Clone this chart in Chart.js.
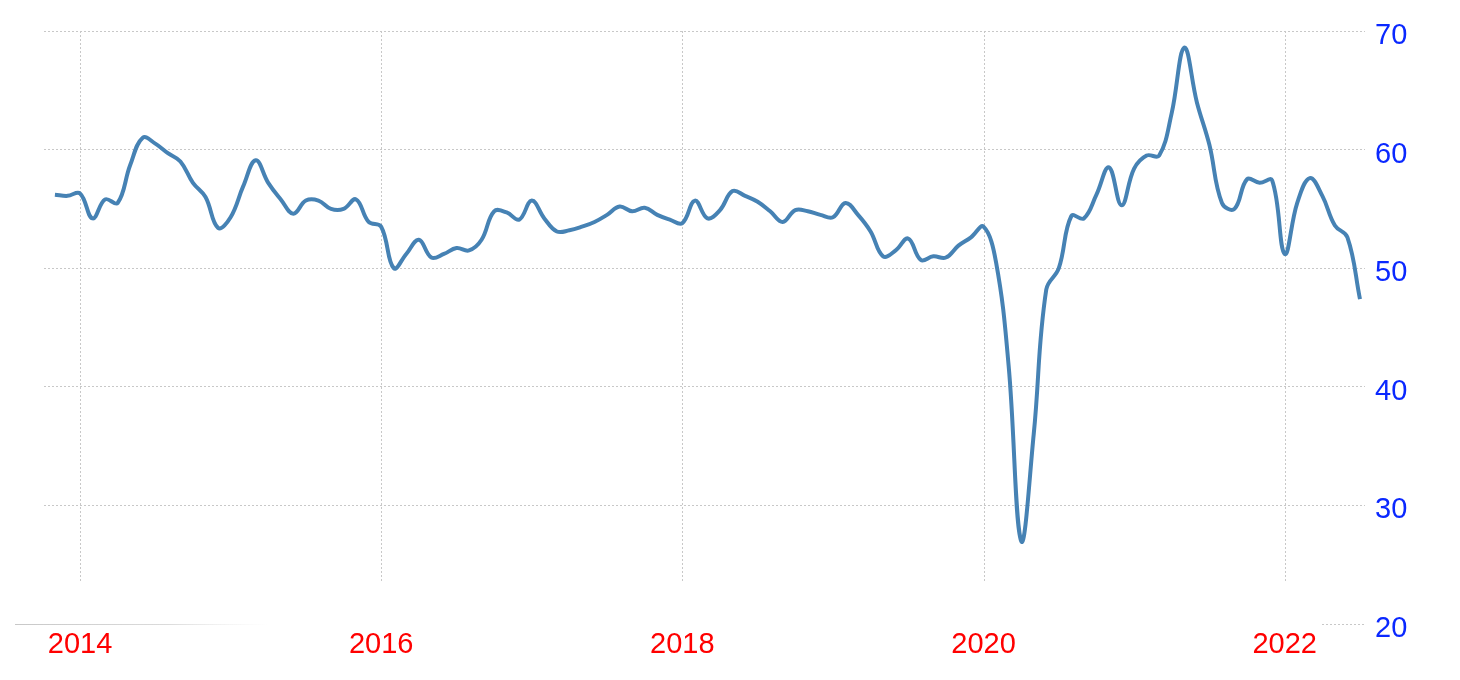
<!DOCTYPE html>
<html>
<head>
<meta charset="utf-8">
<script src="https://cdn.jsdelivr.net/npm/chart.js@4/dist/chart.umd.min.js"></script>
<style>
  html, body { margin: 0; padding: 0; background: #fff; }
  #wrap { width: 1460px; height: 680px; }
</style>
</head>
<body>
<div id="wrap"><canvas id="cChart" width="1460" height="680"></canvas></div>
<script>
// monthly readings, Nov 2013 .. Jul 2022
var startYear = 2013;
var startMonth = 10; // 0 based, Nov
var pmi2013_2015 = [
  56.2, 56.1, 56.3, 54.2, 55.8, 55.5, 58.7, 61.0, 60.5, 59.7, 59.0, 57.2,
  56.0, 53.4, 54.3, 56.9, 59.1, 57.2, 55.8, 54.6, 55.7, 55.7, 55.0, 55.0,
  55.8, 53.9
];
var pmi2016_2017 = [
  53.5, 50.0, 51.2, 52.4, 50.9, 51.2, 51.7, 51.5, 52.4, 54.8, 54.7, 54.1,
  55.7, 54.2, 53.1, 53.2, 53.5, 53.9, 54.5, 55.2, 54.8, 55.1, 54.5, 54.1
];
var pmi2018_2019 = [
  53.8, 55.7, 54.2, 54.9, 56.5, 56.1, 55.6, 54.8, 53.9, 54.9, 54.8, 54.5,
  54.3, 55.5, 54.5, 53.1, 51.0, 51.5, 52.5, 50.7, 51.0, 50.9, 51.9, 52.6
];
var pmi2020_2022 = [
  53.5, 50.5, 41.8, 27.0, 36.0, 48.2, 50.0, 54.4, 54.2, 56.2, 58.5, 55.3,
  58.4, 59.5, 59.5, 63.1, 68.6, 64.0, 60.4, 55.5, 55.0, 57.5, 57.2, 57.4,
  51.2, 55.5, 57.6, 56.1, 53.6, 52.6, 47.4
];
var yearTicks = [2014, 2016, 2018, 2020, 2022];
var yTicks = [20, 30, 40, 50, 60, 70];

var values = pmi2013_2015.concat(pmi2016_2017, pmi2018_2019, pmi2020_2022);
var points = values.map(function(v, i) { return { x: i, y: v }; });

function monthIndex(year) {
  return (year - startYear) * 12 - startMonth;
}

// vertical dotted grid that stops short of the bottom, like the original
var yearGrid = {
  id: 'yearGrid',
  beforeDatasetsDraw: function(chart) {
    var ctx = chart.ctx;
    var xs = chart.scales.x;
    var ys = chart.scales.y;
    var area = chart.chartArea;
    ctx.save();
    ctx.strokeStyle = '#c8c8c8';
    ctx.lineWidth = 1;
    ctx.setLineDash([2, 2]);
    yearTicks.forEach(function(yr) {
      var px = Math.round(xs.getPixelForValue(monthIndex(yr))) + 0.5;
      ctx.beginPath();
      ctx.moveTo(px, ys.getPixelForValue(70));
      ctx.lineTo(px, ys.getPixelForValue(23.5));
      ctx.stroke();
    });
    // short stub of the 20 line at the right edge
    var y20 = Math.round(ys.getPixelForValue(20)) + 0.5;
    ctx.beginPath();
    ctx.moveTo(area.right - 43, y20);
    ctx.lineTo(area.right, y20);
    ctx.stroke();
    // faded rule at the bottom left
    ctx.setLineDash([]);
    var g = ctx.createLinearGradient(15, 0, 270, 0);
    g.addColorStop(0, 'rgba(200,200,200,1)');
    g.addColorStop(0.6, 'rgba(215,215,215,0.9)');
    g.addColorStop(1, 'rgba(235,235,235,0)');
    ctx.strokeStyle = g;
    ctx.beginPath();
    ctx.moveTo(15, y20);
    ctx.lineTo(270, y20);
    ctx.stroke();
    ctx.restore();
  }
};

var ctx = document.getElementById('cChart');
var chartInstance = new Chart(ctx, {
  type: 'line',
  data: {
    datasets: [{
      data: points,
      borderColor: '#4682b4',
      borderWidth: 4,
      pointRadius: 0,
      tension: 0.4,
      fill: false
    }]
  },
  options: {
    responsive: false,
    animation: false,
    layout: { padding: { left: 44, top: 31, right: 0, bottom: 0 } },
    plugins: { legend: { display: false }, tooltip: { enabled: false } },
    scales: {
      x: {
        type: 'linear',
        min: -0.87,
        max: 104.4,
        grid: { display: false, drawTicks: false },
        border: { display: false },
        afterBuildTicks: function(s) {
          s.ticks = yearTicks.map(function(yr) { return { value: monthIndex(yr) }; });
        },
        afterFit: function(s) { s.height = 56; },
        ticks: {
          autoSkip: false,
          maxRotation: 0,
          padding: 4,
          color: '#ff0000',
          font: { family: 'Liberation Sans', size: 29 },
          callback: function(v) {
            return String(startYear + Math.floor((v + startMonth) / 12));
          }
        }
      },
      y: {
        position: 'right',
        min: 20,
        max: 70,
        afterBuildTicks: function(s) {
          s.ticks = yTicks.map(function(v) { return { value: v }; });
        },
        afterFit: function(s) { s.width = 95; },
        border: { display: false, dash: [2, 2] },
        grid: {
          drawTicks: false,
          lineWidth: 1,
          color: function(c) { return c.tick && c.tick.value === 20 ? 'rgba(0,0,0,0)' : '#c8c8c8'; }
        },
        ticks: {
          padding: 10,
          labelOffset: 5,
          color: '#0a28ff',
          font: { family: 'Liberation Sans', size: 29 }
        }
      }
    }
  },
  plugins: [yearGrid]
});
</script>
</body>
</html>
